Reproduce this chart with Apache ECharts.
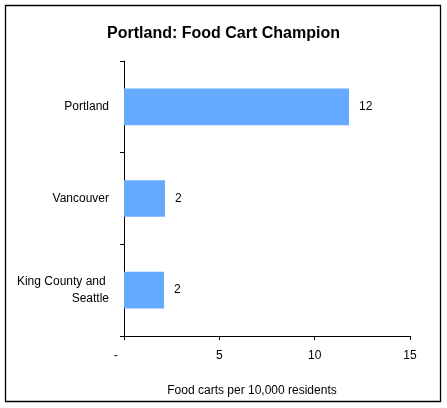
<!DOCTYPE html>
<html>
<head>
<meta charset="utf-8">
<script src="https://cdn.jsdelivr.net/npm/echarts@6/dist/echarts.min.js"></script>
<style>
  html, body { margin: 0; padding: 0; background: #fff; }
  #chart { width: 447px; height: 408px; }
</style>
</head>
<body>
<div id="chart"></div>
<script>
// data, top to bottom as in the picture
const cities = ["Portland", "Vancouver", "King County and Seattle"];
const cartsPer10k = [11.8, 2.15, 2.1];
const shownLabels = ["12", "2", "2"];
const xTicks = [0, 5, 10, 15];

const font = "Arial, 'Liberation Sans', sans-serif";
const chart = echarts.init(document.getElementById("chart"), null, { renderer: "canvas" });

chart.setOption({
  animation: false,
  backgroundColor: "#fff",
  title: {
    text: "Portland: Food Cart Champion",
    left: "center",
    top: 21,
    textStyle: { fontFamily: font, fontSize: 16, fontWeight: "bold", color: "#000" }
  },
  graphic: [{
    type: "rect",
    shape: { x: 5.5, y: 5.5, width: 435, height: 396 },
    style: { fill: null, stroke: "#000", lineWidth: 1.3 },
    silent: true
  }],
  grid: { left: 124, right: 37, top: 61, bottom: 72, containLabel: false },
  xAxis: {
    type: "value",
    min: xTicks[0],
    max: xTicks[xTicks.length - 1],
    interval: xTicks[1] - xTicks[0],
    name: "Food carts per 10,000 residents",
    nameLocation: "middle",
    nameGap: 49,
    nameTextStyle: { fontFamily: font, fontSize: 12, color: "#000", padding: [0, 30, 0, 0] },
    axisLine: { show: true, lineStyle: { color: "#000", width: 1 } },
    axisTick: { show: true, length: 4, lineStyle: { color: "#000" } },
    axisLabel: {
      margin: 14,
      fontFamily: font, fontSize: 12, color: "#000",
      formatter: v => (v === 0 ? "-     " : String(v))
    },
    splitLine: { show: false }
  },
  yAxis: {
    type: "category",
    inverse: true,
    data: cities,
    axisLine: { show: true, lineStyle: { color: "#000", width: 1 } },
    axisTick: { show: true, length: 4, lineStyle: { color: "#000" } },
    axisLabel: {
      margin: 15,
      fontFamily: font, fontSize: 12, color: "#000", lineHeight: 17,
      formatter: v => v.replace(" and ", " and \n")
    }
  },
  series: [{
    type: "bar",
    data: cartsPer10k,
    barCategoryGap: "60%",
    itemStyle: { color: "#66AAFF" },
    label: {
      show: true,
      position: "right",
      distance: 10,
      fontFamily: font, fontSize: 12, color: "#000",
      formatter: p => shownLabels[p.dataIndex]
    }
  }]
});
</script>
</body>
</html>
